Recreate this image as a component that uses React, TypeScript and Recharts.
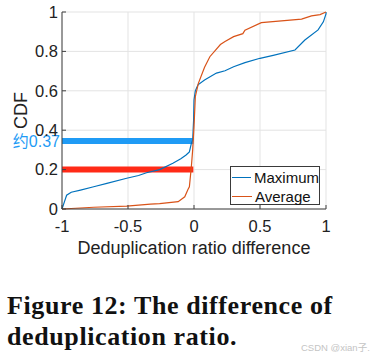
import { LineChart, Line, XAxis, YAxis, CartesianGrid, Legend, ReferenceLine } from 'recharts'

const xTicks = [-1, -0.5, 0, 0.5, 1]
const yTicks = [0, 0.2, 0.4, 0.6, 0.8, 1]

const maximum = [
  { x: -1, y: 0 }, { x: -0.98, y: 0.04 }, { x: -0.965, y: 0.07 }, { x: -0.93, y: 0.085 },
  { x: -0.86, y: 0.096 }, { x: -0.76, y: 0.113 }, { x: -0.66, y: 0.13 }, { x: -0.51, y: 0.156 },
  { x: -0.42, y: 0.17 }, { x: -0.36, y: 0.184 }, { x: -0.26, y: 0.2 }, { x: -0.16, y: 0.232 },
  { x: -0.1, y: 0.255 }, { x: -0.06, y: 0.274 }, { x: -0.035, y: 0.29 }, { x: -0.02, y: 0.333 },
  { x: -0.01, y: 0.35 }, { x: -0.003, y: 0.45 }, { x: 0, y: 0.553 }, { x: 0.01, y: 0.6 },
  { x: 0.03, y: 0.63 }, { x: 0.08, y: 0.655 }, { x: 0.17, y: 0.69 }, { x: 0.235, y: 0.702 },
  { x: 0.3, y: 0.722 }, { x: 0.386, y: 0.743 }, { x: 0.5, y: 0.765 }, { x: 0.6, y: 0.78 },
  { x: 0.765, y: 0.807 }, { x: 0.84, y: 0.858 }, { x: 0.94, y: 0.909 }, { x: 0.98, y: 0.95 },
  { x: 1, y: 0.99 }, { x: 1, y: 1 },
]

const average = [
  { x: -1, y: 0 }, { x: -0.76, y: 0.009 }, { x: -0.51, y: 0.015 }, { x: -0.33, y: 0.025 },
  { x: -0.26, y: 0.027 }, { x: -0.12, y: 0.037 }, { x: -0.07, y: 0.062 }, { x: -0.045, y: 0.1 },
  { x: -0.035, y: 0.113 }, { x: -0.02, y: 0.215 }, { x: -0.01, y: 0.3 }, { x: 0, y: 0.418 },
  { x: 0.01, y: 0.57 }, { x: 0.033, y: 0.638 }, { x: 0.08, y: 0.72 }, { x: 0.12, y: 0.773 },
  { x: 0.2, y: 0.835 }, { x: 0.235, y: 0.85 }, { x: 0.3, y: 0.875 }, { x: 0.37, y: 0.89 },
  { x: 0.386, y: 0.908 }, { x: 0.51, y: 0.946 }, { x: 0.815, y: 0.964 }, { x: 0.89, y: 0.98 },
  { x: 0.955, y: 0.987 }, { x: 1, y: 1 },
]

const markers = [
  { y: 0.345, color: '#1f9bf5', label: '约0.37' },
  { y: 0.2, color: '#ff2a17', label: '' },
]

const font = '"Liberation Sans", Arial, "Noto Sans CJK SC", sans-serif'
const axisColor = '#404040'
const tickStyle = { fontSize: 16.5, fill: '#222', fontFamily: font }

function LegendBox() {
  const rows = [
    { name: 'Maximum', color: '#0072bd' },
    { name: 'Average', color: '#d95319' },
  ]
  return (
    <div style={{ border: '1px solid #3a3a3a', background: '#fff', width: 88, height: 37, boxSizing: 'content-box', fontFamily: font, fontSize: 15, color: '#111' }}>
      {rows.map(r => (
        <div key={r.name} style={{ display: 'flex', alignItems: 'center', height: 19, marginTop: r.name === 'Maximum' ? 1 : 0 }}>
          <span style={{ display: 'inline-block', width: 20, height: 1.3, background: r.color, marginLeft: 1, marginRight: 3 }} />
          <span>{r.name}</span>
        </div>
      ))}
    </div>
  )
}

export default function App() {
  return (
    <div style={{ position: 'absolute', left: 0, top: 0, width: 370, height: 359, background: '#fff' }}>
      <LineChart width={370} height={265} margin={{ top: 12, right: 44, left: 12, bottom: 6 }}>
        <CartesianGrid stroke="#e3e3e3" />
        <XAxis
          dataKey="x"
          type="number"
          domain={[-1, 1]}
          ticks={xTicks}
          height={50}
          stroke={axisColor}
          tick={tickStyle}
          tickSize={-4}
          tickMargin={15}
          label={{
            content: ({ viewBox }: any) => (
              <text x={viewBox.x + viewBox.width / 2} y={254} textAnchor="middle" fontSize={18} fontFamily={font} fill="#222">
                Deduplication ratio difference
              </text>
            ),
          }}
        />
        <XAxis xAxisId="top" orientation="top" type="number" domain={[-1, 1]} ticks={xTicks} stroke={axisColor} tick={false} tickSize={-4} height={0} />
        <YAxis
          type="number"
          domain={[0, 1]}
          ticks={yTicks}
          width={50}
          stroke={axisColor}
          tick={tickStyle}
          tickSize={-4}
          tickMargin={8}
          label={{
            content: ({ viewBox }: any) => {
              const cx = 21
              const cy = viewBox.y + viewBox.height / 2
              return (
                <text x={cx} y={cy} transform={`rotate(-90 ${cx} ${cy})`} textAnchor="middle" dominantBaseline="central" fontSize={18} fontFamily={font} fill="#222">
                  CDF
                </text>
              )
            },
          }}
        />
        <YAxis yAxisId="right" orientation="right" type="number" domain={[0, 1]} ticks={yTicks} stroke={axisColor} tick={false} tickSize={-4} width={0} />
        {markers.map(m => (
          <ReferenceLine
            key={m.y}
            segment={[{ x: -1, y: m.y }, { x: -0.005, y: m.y }]}
            stroke={m.color}
            strokeWidth={6}
            label={m.label ? {
              content: ({ viewBox }: any) => (
                <text x={viewBox.x - 2} y={viewBox.y + 6} textAnchor="end" fontSize={16} fontFamily={font} fill={m.color}>
                  {m.label}
                </text>
              ),
            } : undefined}
          />
        ))}
        <Line data={maximum} dataKey="y" name="Maximum" stroke="#0072bd" strokeWidth={1.2} dot={false} isAnimationActive={false} />
        <Line data={average} dataKey="y" name="Average" stroke="#d95319" strokeWidth={1.2} dot={false} isAnimationActive={false} />
        <Legend
          layout="vertical"
          align="center"
          verticalAlign="middle"
          content={() => <LegendBox />}
          wrapperStyle={{ left: 230, top: 166, width: 90, height: 39 }}
        />
      </LineChart>
      <div style={{ position: 'absolute', left: 7, top: 290, fontFamily: '"Liberation Serif", "Times New Roman", serif', fontWeight: 700, fontSize: 26, lineHeight: '31px', letterSpacing: 0.6, color: '#111' }}>
        Figure 12: The difference of<br />deduplication ratio.
      </div>
      <div style={{ position: 'absolute', left: 301, top: 340, fontFamily: font, fontSize: 9.5, color: '#c4c4c4' }}>
        CSDN @xian子.
      </div>
    </div>
  )
}
